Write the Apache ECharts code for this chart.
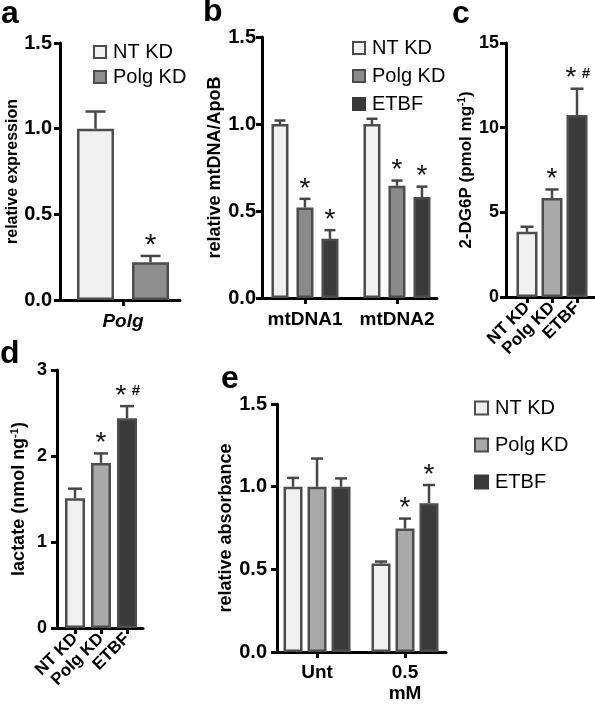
<!DOCTYPE html>
<html><head><meta charset="utf-8">
<script src="https://cdn.jsdelivr.net/npm/echarts@6/dist/echarts.min.js"></script>
<style>html,body{margin:0;padding:0;background:#fff}#c{width:595px;height:704px}</style>
</head><body><div id="c"></div>
<script>
// ---------------- data ----------------
// panel a
const aCategories = ['Polg'];
const aYTicks = [0, 0.5, 1.0, 1.5];
const aNTMean = [1.00], aNTErr = [0.10];
const aPolgMean = [0.22], aPolgErr = [0.037];
const aPolgStars = ['*'];
// panel b
const bCategories = ['mtDNA1', 'mtDNA2'];
const bYTicks = [0, 0.5, 1.0, 1.5];
const bNTMean = [1.00, 1.00], bNTErr = [0.02, 0.03];
const bPolgMean = [0.52, 0.645], bPolgErr = [0.05, 0.03];
const bETBFMean = [0.34, 0.58], bETBFErr = [0.05, 0.06];
const bPolgStars = ['*', '*'], bETBFStars = ['*', '*'];
// panel c
const cCategories = ['NT KD', 'Polg KD', 'ETBF'];
const cYTicks = [0, 5, 10, 15];
const cMean = [3.85, 5.85, 10.75], cErr = [0.30, 0.50, 1.55];
const cStars = ['', '*', '* #'];
// panel d
const dCategories = ['NT KD', 'Polg KD', 'ETBF'];
const dYTicks = [0, 1, 2, 3];
const dMean = [1.51, 1.92, 2.44], dErr = [0.11, 0.11, 0.14];
const dStars = ['', '*', '* #'];
// panel e
const eCategories = ['Unt', '0.5\nmM'];
const eYTicks = [0, 0.5, 1.0, 1.5];
const eNTMean = [1.00, 0.535], eNTErr = [0.053, 0.012];
const ePolgMean = [1.00, 0.747], ePolgErr = [0.17, 0.06];
const eETBFMean = [1.00, 0.90], eETBFErr = [0.05, 0.11];
const ePolgStars = ['', '*'], eETBFStars = ['', '*'];

// ---------------- style ----------------
const FONT = "'Liberation Sans', Arial, Helvetica, sans-serif";
const BORDER = '#4d4d4d';
const ERRC = '#474747';
const C_NT = '#f0f0f0', C_POLG_DARK = '#8f8f8f', C_POLG_B = '#8a8a8a', C_POLG = '#a9a9a9', C_ETBF = '#3a3a3a';

const panels = [
  { left: 60, top: 43, width: 120, height: 257, xMin: 0.37, xMax: 1.57, categories: aCategories,
    yTicks: aYTicks, yDec: 1, yFont: 20, yMargin: 8, xFont: 19, xMargin: 12, italic: true,
    name: 'relative expression', nameFont: 16, nameGap: 35,
    barWidth: 37, gap: 18, cap: 20, starFont: 30,
    groups: [
      { name: 'NT KD', mean: aNTMean, err: aNTErr, stars: null, color: C_NT },
      { name: 'Polg KD', mean: aPolgMean, err: aPolgErr, stars: aPolgStars, color: C_POLG_DARK }
    ] },
  { left: 262, top: 37, width: 175, height: 261, xMin: 0.533, xMax: 2.435, categories: bCategories,
    yTicks: bYTicks, yDec: 1, yFont: 20, yMargin: 6, xFont: 19, xMargin: 12,
    name: 'relative mtDNA/ApoB', nameFont: 18, nameGap: 36,
    barWidth: 17, gap: 8, cap: 11, starFont: 28,
    groups: [
      { name: 'NT KD', mean: bNTMean, err: bNTErr, stars: null, color: C_NT },
      { name: 'Polg KD', mean: bPolgMean, err: bPolgErr, stars: bPolgStars, color: C_POLG_B },
      { name: 'ETBF', mean: bETBFMean, err: bETBFErr, stars: bETBFStars, color: C_ETBF }
    ] },
  { left: 506, top: 43, width: 89, height: 254, xMin: 0.16, xMax: 3.72, categories: cCategories,
    yTicks: cYTicks, yDec: 0, yFont: 18, yMargin: 7, xFont: 17, xMargin: 8, rotate: 45,
    name: '{t|2-DG6P (pmol mg}{s|-1}{t|)}', nameFont: 17, nameGap: 22, rich: true,
    barWidth: 21, gap: 0, cap: 13, starFont: 28,
    groups: [
      { name: '2-DG6P', mean: cMean, err: cErr, stars: cStars, colors: [C_NT, C_POLG, C_ETBF] }
    ] },
  { left: 57, top: 370, width: 86, height: 258, xMin: 0.308, xMax: 3.615, categories: dCategories,
    yTicks: dYTicks, yDec: 0, yFont: 18, yMargin: 10, xFont: 17, xMargin: 8, rotate: 45,
    name: '{t|lactate (nmol ng}{s|-1}{t|)}', nameFont: 18, nameGap: 28, rich: true,
    barWidth: 20, gap: 0, cap: 14, starFont: 28,
    groups: [
      { name: 'lactate', mean: dMean, err: dErr, stars: dStars, colors: [C_NT, C_POLG, C_ETBF] }
    ] },
  { left: 277, top: 404, width: 169, height: 252, xMin: 0.545, xMax: 2.466, categories: eCategories,
    yTicks: eYTicks, yDec: 1, yFont: 20, yMargin: 10, xFont: 19, xMargin: 10, xLineHeight: 21,
    name: 'relative absorbance', nameFont: 18, nameGap: 40,
    barWidth: 19, gap: 5, cap: 12, starFont: 28,
    groups: [
      { name: 'NT KD', mean: eNTMean, err: eNTErr, stars: null, color: C_NT },
      { name: 'Polg KD', mean: ePolgMean, err: ePolgErr, stars: ePolgStars, color: C_POLG },
      { name: 'ETBF', mean: eETBFMean, err: eETBFErr, stars: eETBFStars, color: C_ETBF }
    ] }
];

function txt(s, x, y, size, weight) {
  return { type: 'text', style: { text: s, x: x, y: y, align: 'center', verticalAlign: 'middle',
    font: (weight || 'normal') + ' ' + size + 'px ' + FONT, fill: '#111' } };
}
function makeErr(off, cap, stars, starFont) {
  return function (params, api) {
    const x = api.value(0), m = api.value(1), e = api.value(2);
    const b = api.coord([x, m]), t = api.coord([x, m + e]);
    const cx = b[0] + off;
    const st = { stroke: ERRC, lineWidth: 2.5 };
    const ch = [
      { type: 'line', shape: { x1: cx, y1: b[1], x2: cx, y2: t[1] }, style: st },
      { type: 'line', shape: { x1: cx - cap / 2, y1: t[1], x2: cx + cap / 2, y2: t[1] }, style: st }
    ];
    const s = stars ? stars[params.dataIndex] : '';
    if (s) {
      const parts = s.split(' ');
      if (parts.length === 1) ch.push(txt(parts[0], cx, t[1] - 10, starFont));
      else {
        ch.push(txt(parts[0], cx - 6, t[1] - 10, starFont));
        ch.push(txt(parts[1], cx + 9, t[1] - 15, 15, 'bold'));
      }
    }
    return { type: 'group', children: ch };
  };
}

const grids = [], xAxes = [], yAxes = [], series = [];
panels.forEach(function (p, gi) {
  grids.push({ left: p.left, top: p.top, width: p.width, height: p.height });
  const pos = p.categories.map(function (_, i) { return i + 1; });
  xAxes.push({
    gridIndex: gi, type: 'value', min: p.xMin, max: p.xMax, splitLine: { show: false },
    axisLine: { show: true, onZero: false, lineStyle: { color: '#000', width: 3 } },
    axisTick: { show: true, customValues: pos, length: 6, lineStyle: { color: '#000', width: 3 } },
    axisLabel: { customValues: pos, formatter: function (v) { return p.categories[Math.round(v) - 1]; },
      margin: p.xMargin, rotate: p.rotate || 0, fontFamily: FONT, fontWeight: 'bold', fontSize: p.xFont,
      color: '#000', fontStyle: p.italic ? 'italic' : 'normal', lineHeight: p.xLineHeight || p.xFont }
  });
  const yt = p.yTicks;
  const nameStyle = { fontFamily: FONT, fontWeight: 'bold', fontSize: p.nameFont, color: '#000' };
  if (p.rich) {
    nameStyle.rich = {
      t: { fontFamily: FONT, fontWeight: 'bold', fontSize: p.nameFont, lineHeight: p.nameFont + 2, color: '#000' },
      s: { fontFamily: FONT, fontWeight: 'bold', fontSize: Math.round(p.nameFont * 0.6), lineHeight: 10, verticalAlign: 'top', color: '#000' }
    };
  }
  yAxes.push({
    gridIndex: gi, type: 'value', min: yt[0], max: yt[yt.length - 1], interval: yt[1] - yt[0],
    splitLine: { show: false },
    axisLine: { show: true, lineStyle: { color: '#000', width: 3 } },
    axisTick: { show: true, length: 6, lineStyle: { color: '#000', width: 3 } },
    axisLabel: { margin: p.yMargin, fontFamily: FONT, fontWeight: 'bold', fontSize: p.yFont, color: '#000',
      formatter: function (v) { return v.toFixed(p.yDec); } },
    name: p.name, nameLocation: 'middle', nameRotate: 90, nameGap: p.nameGap, nameTextStyle: nameStyle
  });
  const n = p.groups.length;
  const total = n * p.barWidth + (n - 1) * p.gap;
  p.groups.forEach(function (g, k) {
    const off = -total / 2 + k * (p.barWidth + p.gap) + p.barWidth / 2;
    series.push({
      type: 'bar', name: g.name, xAxisIndex: gi, yAxisIndex: gi, barWidth: p.barWidth,
      barGap: (p.gap / p.barWidth * 100) + '%', silent: true,
      itemStyle: { color: g.color || C_NT, borderColor: BORDER, borderWidth: 2.5 },
      data: pos.map(function (x, i) {
        const d = { value: [x, g.mean[i]] };
        if (g.colors) d.itemStyle = { color: g.colors[i] };
        return d;
      })
    });
    series.push({
      type: 'custom', xAxisIndex: gi, yAxisIndex: gi, z: 3, silent: true,
      data: pos.map(function (x, i) { return [x, g.mean[i], g.err[i]]; }),
      renderItem: makeErr(off, p.cap, g.stars, p.starFont)
    });
  });
});

function legendItem(name, color) {
  return { name: name, itemStyle: { color: color, borderColor: name === 'ETBF' ? C_ETBF : BORDER, borderWidth: 2 } };
}
function legendBox(left, top, gap, size, items) {
  return { left: left, top: top, orient: 'vertical', itemWidth: size, itemHeight: size, itemGap: gap,
    selectedMode: false, icon: 'rect', padding: 0,
    textStyle: { fontFamily: FONT, fontSize: 20, color: '#000', padding: [0, 0, 0, 2] },
    data: items };
}
const legends = [
  legendBox(93, 42, 5, 12, [legendItem('NT KD', C_NT), legendItem('Polg KD', C_POLG_DARK)]),
  legendBox(352, 38, 8, 12, [legendItem('NT KD', C_NT), legendItem('Polg KD', C_POLG_B), legendItem('ETBF', C_ETBF)]),
  legendBox(474, 398, 17, 13, [legendItem('NT KD', C_NT), legendItem('Polg KD', C_POLG), legendItem('ETBF', C_ETBF)])
];

function letter(t, left, top) {
  return { type: 'text', left: left, top: top, style: { text: t, font: 'bold 32px ' + FONT, fill: '#000' } };
}

const chart = echarts.init(document.getElementById('c'), null, { renderer: 'canvas' });
chart.setOption({
  animation: false,
  backgroundColor: '#fff',
  grid: grids, xAxis: xAxes, yAxis: yAxes, series: series, legend: legends,
  graphic: [letter('a', 1, -2), letter('b', 203, -4), letter('c', 452, -2), letter('d', 0, 338), letter('e', 221, 363)]
});
</script>
</body></html>
